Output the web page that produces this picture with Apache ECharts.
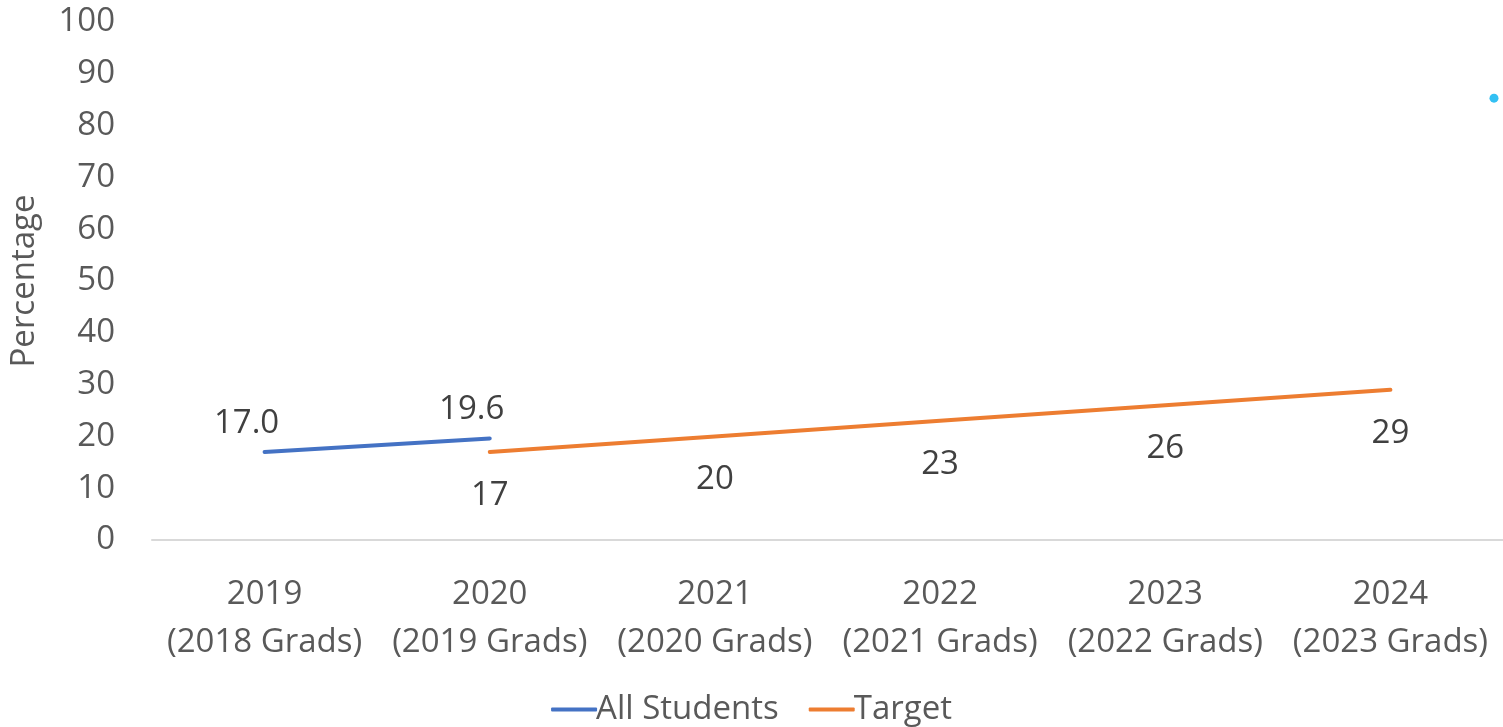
<!doctype html>
<html>
    <head>
        <meta charset="utf-8">
        <style>
            html, body { margin: 0; padding: 0; background: #fff; }
            #main { width: 1503px; height: 727px; }
        </style>
    </head>
    <body>
        <div id="main"></div>
        <script src="https://cdn.jsdelivr.net/npm/echarts@6/dist/echarts.min.js"></script>
        <script>
            var years = ['2019\n(2018 Grads)', '2020\n(2019 Grads)', '2021\n(2020 Grads)',
                         '2022\n(2021 Grads)', '2023\n(2022 Grads)', '2024\n(2023 Grads)'];
            var allStudents = [17.0, 19.6, null, null, null, null];
            var target = [null, 17, 20, 23, 26, 29];
            // stray point at the right edge of the original
            var strayPoint = [[5.96, 85.3]];

            var font = '"Open Sans", "Noto Sans", sans-serif';
            var grey = '#595959';
            var fs = 33;

            var chart = echarts.init(document.getElementById('main'));

            chart.setOption({
                animation: false,
                textStyle: { fontFamily: font },
                grid: {
                    left: 152,
                    right: 0,
                    top: 22,
                    bottom: 187,
                    outerBoundsMode: 'none'
                },
                legend: {
                    bottom: -4,
                    left: 'center',
                    itemWidth: 46,
                    itemHeight: 4,
                    itemGap: 30,
                    icon: 'roundRect',
                    textStyle: { fontSize: fs, color: grey, fontFamily: font, padding: [0, 0, 0, -6] },
                    data: ['All Students', 'Target']
                },
                xAxis: [{
                    type: 'category',
                    data: years,
                    axisLine: { lineStyle: { color: '#d9d9d9', width: 2 } },
                    axisTick: { show: false },
                    axisLabel: {
                        fontSize: fs,
                        color: grey,
                        lineHeight: 48,
                        margin: 31,
                        interval: 0
                    }
                }, {
                    type: 'value',
                    min: 0,
                    max: 6,
                    show: false
                }],
                yAxis: {
                    type: 'value',
                    min: 0,
                    max: 100,
                    interval: 10,
                    name: 'Percentage',
                    nameLocation: 'middle',
                    nameGap: 111,
                    nameTextStyle: { fontSize: fs, color: grey },
                    axisLine: { show: false },
                    axisTick: { show: false },
                    splitLine: { show: false },
                    axisLabel: { fontSize: fs, color: grey, margin: 37, padding: [7, 0, 0, 0] }
                },
                series: [{
                    name: 'All Students',
                    type: 'line',
                    data: allStudents,
                    symbol: 'circle',
                    symbolSize: 0.1,
                    itemStyle: { color: '#4472C4' },
                    lineStyle: { color: '#4472C4', width: 4, cap: 'round' },
                    label: {
                        show: true,
                        position: 'top',
                        distance: 12,
                        offset: [-18, 0],
                        fontSize: fs,
                        color: '#404040',
                        formatter: function (p) { return p.value.toFixed(1); }
                    }
                }, {
                    name: 'Target',
                    type: 'line',
                    data: target,
                    symbol: 'circle',
                    symbolSize: 0.1,
                    itemStyle: { color: '#ED7D31' },
                    lineStyle: { color: '#ED7D31', width: 4, cap: 'round' },
                    label: {
                        show: true,
                        position: 'bottom',
                        distance: 27,
                        fontSize: fs,
                        color: '#404040'
                    }
                }, {
                    type: 'scatter',
                    xAxisIndex: 1,
                    data: strayPoint,
                    symbolSize: 9,
                    itemStyle: { color: '#00B0F0' }
                }]
            });

            window.onresize = chart.resize;
        </script>
    </body>
</html>
